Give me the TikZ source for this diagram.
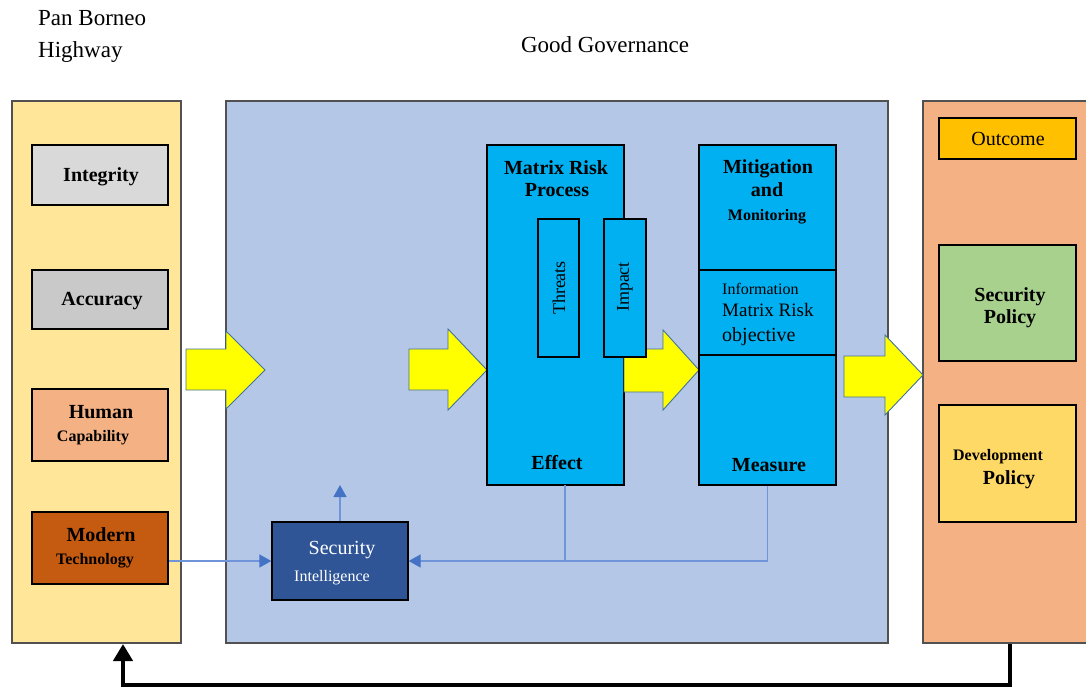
\documentclass[tikz,border=0pt]{standalone}
\usepackage{fontspec}
\setmainfont{Liberation Serif}
\usetikzlibrary{arrows.meta,calc}
\definecolor{lpcol}{HTML}{FFE699}
\definecolor{mpcol}{HTML}{B4C7E7}
\definecolor{rpcol}{HTML}{F4B183}
\definecolor{intcol}{HTML}{D9D9D9}
\definecolor{acccol}{HTML}{C9C9C9}
\definecolor{humcol}{HTML}{F4B183}
\definecolor{modcol}{HTML}{C55A11}
\definecolor{mrcol}{HTML}{00B0F0}
\definecolor{sicol}{HTML}{2F5597}
\definecolor{outcol}{HTML}{FFC000}
\definecolor{spcol}{HTML}{A9D18E}
\definecolor{dpcol}{HTML}{FFD966}
\definecolor{yelcol}{HTML}{FFFF00}
\definecolor{yelline}{HTML}{41719C}
\definecolor{conncol}{HTML}{7094D8}
\definecolor{tipcol}{HTML}{4472C4}
\definecolor{bordcol}{HTML}{262626}
\begin{document}
\begin{tikzpicture}[x=1pt,y=-1pt,
  panel/.style={draw=bordcol!80,line width=1.3pt,inner sep=0pt},
  rbox/.style={draw=black,line width=1.3pt,inner sep=0pt},
  yarrow/.style={fill=yelcol,draw=yelline,line width=0.9pt,line join=miter},
  conn/.style={draw=conncol,line width=1.3pt,-{Triangle[width=13pt,length=12pt,color=tipcol]}},
  plainconn/.style={draw=conncol,line width=1.3pt},
  fb/.style={draw=black,line width=4.8pt,-{Triangle[width=19pt,length=17pt]}},
  lbl/.style={inner sep=0pt,anchor=base,font=\fontsize{20}{24}\selectfont\bfseries},
  lbls/.style={inner sep=0pt,anchor=base,font=\fontsize{16}{19}\selectfont\bfseries},
  txt/.style={inner sep=0pt,anchor=base,font=\fontsize{20}{24}\selectfont},
  txts/.style={inner sep=0pt,anchor=base,font=\fontsize{16}{19}\selectfont},
  title/.style={inner sep=0pt,anchor=base west,font=\fontsize{23}{27}\selectfont}
]
\useasboundingbox (0,0) rectangle (1086,688);
\fill[white] (0,0) rectangle (1086,688);

% titles
\node[title] (t1) at (38,25.5) {Pan Borneo};
\node[title] (t2) at (38,57.5) {Highway};
\node[title,anchor=base] (t3) at (605,52.5) {Good Governance};

% panels
\node[panel,fill=lpcol,minimum width=169pt,minimum height=542pt] (lp) at (96.5,372) {};
\node[panel,fill=mpcol,minimum width=662pt,minimum height=542pt] (mp) at (557,372) {};
\node[panel,fill=rpcol,minimum width=174pt,minimum height=542pt] (rp) at (1010,372) {};

% left boxes
\node[rbox,fill=intcol,minimum width=136pt,minimum height=60pt] (int) at (100,175) {};
\node[rbox,fill=acccol,minimum width=136pt,minimum height=59pt] (acc) at (100,299.5) {};
\node[rbox,fill=humcol,minimum width=136pt,minimum height=72pt] (hum) at (100,425) {};
\node[rbox,fill=modcol,minimum width=136pt,minimum height=72pt] (mod) at (100,548) {};
\node[lbl] (intT) at (101,181.5) {Integrity};
\node[lbl] (accT) at (102,305.5) {Accuracy};
\node[lbl] (humT1) at (101,418.5) {Human};
\node[lbls] (humT2) at (93,441) {Capability};
\node[lbl] (modT1) at (101,541.5) {Modern};
\node[lbls] (modT2) at (95,564) {Technology};

% yellow arrows
\draw[yarrow] (186,349) -- (226,349) -- (226,331) -- (265,370) -- (226,409) -- (226,390) -- (186,390) -- cycle;
\draw[yarrow] (409,349) -- (448,349) -- (448,329) -- (487,370) -- (448,410) -- (448,390) -- (409,390) -- cycle;

% matrix risk process
\node[rbox,fill=mrcol,minimum width=137pt,minimum height=340pt] (mr) at (555.5,315) {};
\draw[yarrow] (624,349) -- (663,349) -- (663,330) -- (699,370) -- (663,410) -- (663,392) -- (624,392) -- cycle;
\node[rbox,fill=mrcol,minimum width=41pt,minimum height=138pt] (thr) at (558.5,288) {};
\node[rbox,fill=mrcol,minimum width=42pt,minimum height=138pt] (imp) at (625,288) {};
\node[inner sep=0pt,rotate=90,font=\fontsize{18}{22}\selectfont] (thrT) at (559,288) {Threats};
\node[inner sep=0pt,rotate=90,font=\fontsize{18}{22}\selectfont] (impT) at (625,287) {Impact};
\node[lbl] (mrT1) at (556,174.5) {Matrix Risk};
\node[lbl] (mrT2) at (557,196.5) {Process};
\node[lbl] (effT) at (557,469.5) {Effect};

% mitigation
\node[rbox,fill=mrcol,minimum width=137pt,minimum height=340pt] (mit) at (767.5,315) {};
\draw[line width=1.3pt] (mit.west |- 0,270) -- (mit.east |- 0,270);
\draw[line width=1.3pt] (mit.west |- 0,355) -- (mit.east |- 0,355);
\node[lbl] (mitT1) at (768,173.5) {Mitigation};
\node[lbl] (mitT2) at (767,196.5) {and};
\node[lbls] (mitT3) at (767,220.5) {Monitoring};
\node[txts,anchor=base west] (infT1) at (722,294.5) {Information};
\node[inner sep=0pt,anchor=base west,font=\fontsize{19}{22}\selectfont] (infT2) at (722,316) {Matrix Risk};
\node[txt,anchor=base west] (infT3) at (722,341) {objective};
\node[lbl] (meaT) at (769,471.5) {Measure};

\draw[yarrow] (844,356) -- (885,356) -- (885,335) -- (923,375) -- (885,415) -- (885,397) -- (844,397) -- cycle;

% right boxes
\node[rbox,fill=outcol,minimum width=137pt,minimum height=41pt] (out) at (1007.5,138.5) {};
\node[rbox,fill=spcol,minimum width=137pt,minimum height=116pt] (sp) at (1007.5,303) {};
\node[rbox,fill=dpcol,minimum width=137pt,minimum height=117pt] (dp) at (1007.5,463.5) {};
\node[txt] (outT) at (1008,145.5) {Outcome};
\node[lbl] (spT1) at (1010,301.5) {Security};
\node[lbl] (spT2) at (1010,323.5) {Policy};
\node[lbls] (dpT1) at (998,460.5) {Development};
\node[lbl] (dpT2) at (1009,484.5) {Policy};

% security intelligence
\node[rbox,fill=sicol,minimum width=136pt,minimum height=78pt] (si) at (340,561) {};
\node[txt,text=white] (siT1) at (342,554.5) {Security};
\node[txts,text=white] (siT2) at (332,581.5) {Intelligence};

% connectors
\coordinate (siup) at (340,485);
\coordinate (mrb) at (565,485);
\draw[conn] (mod.east |- si.west) -- (si.west);
\draw[plainconn] (mrb) -- (mrb |- si.east);
\draw[conn] (mit.south) -- (mit.south |- si.east) -- (si.east);
\draw[conn] (si.north) -- (siup);

% feedback arrow
\coordinate (lpb) at (123,644);
\draw[fb] (rp.south) -- (rp.south |- 0,685) -| (lpb);
\end{tikzpicture}
\end{document}
